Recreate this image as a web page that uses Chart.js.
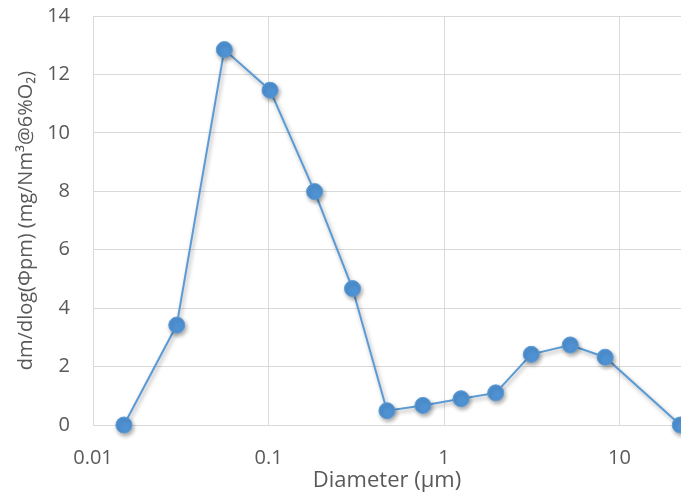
<!DOCTYPE html>
<html>
<head>
<meta charset="utf-8">
<script src="https://cdn.jsdelivr.net/npm/chart.js@4/dist/chart.umd.min.js"></script>
<style>
  html, body { margin: 0; padding: 0; background: #ffffff; overflow: hidden; }
  #wrap { position: relative; width: 681px; height: 495px; }
</style>
</head>
<body>
<div id="wrap"><canvas id="c" width="681" height="495"></canvas></div>
<script>
// Particle size distribution: diameter (µm) vs dm/dlog(Φpm)
const diameters = [0.015, 0.030, 0.056, 0.102, 0.183, 0.301, 0.473, 0.758, 1.25, 1.97, 3.14, 5.24, 8.28, 22.2];
const massDist   = [0.00, 3.42, 12.85, 11.46, 7.99, 4.67, 0.49, 0.67, 0.90, 1.10, 2.42, 2.74, 2.32, 0.00];
const xTickValues = [0.01, 0.1, 1, 10];
const xTickLabels = ['0.01', '0.1', '1', '10'];
const yTicks = [0, 2, 4, 6, 8, 10, 12, 14];

const FONT = "'Open Sans', 'Liberation Sans', sans-serif";
const TEXT = '#595959';
const GRID = '#d9d9d9';
const BLUE = '#5b9bd5';

// soft drop shadow under the markers and line
const shadowPlugin = {
  id: 'markerShadow',
  beforeDatasetsDraw(chart) {
    const ctx = chart.ctx;
    ctx.save();
    ctx.shadowColor = 'rgba(0,0,0,0.35)';
    ctx.shadowBlur = 4;
    ctx.shadowOffsetX = 1.5;
    ctx.shadowOffsetY = 2.5;
  },
  afterDatasetsDraw(chart) {
    chart.ctx.restore();
  }
};

new Chart(document.getElementById('c'), {
  type: 'line',
  data: {
    datasets: [{
      data: diameters.map((d, i) => ({ x: d, y: massDist[i] })),
      borderColor: BLUE,
      borderWidth: 2,
      backgroundColor: '#4f92d4',
      pointBackgroundColor: '#4f92d4',
      pointBorderColor: '#5b9bd5',
      pointBorderWidth: 1,
      pointRadius: 8,
      tension: 0,
      clip: false
    }]
  },
  options: {
    responsive: false,
    animation: false,
    layout: { autoPadding: false, padding: { top: 16, right: 0, left: 0, bottom: 0 } },
    plugins: { legend: { display: false }, tooltip: { enabled: false } },
    scales: {
      x: {
        type: 'logarithmic',
        min: 0.01,
        max: 22.4,
        afterBuildTicks(scale) {
          scale.ticks = xTickValues.map(v => ({ value: v }));
        },
        afterFit(scale) {
          scale.height = 70;
          scale.paddingLeft = 0;
          scale.paddingRight = 0;
        },
        ticks: {
          autoSkip: false,
          maxRotation: 0,
          padding: 21,
          color: TEXT,
          font: { family: FONT, size: 20 },
          callback(value) {
            const i = xTickValues.findIndex(v => Math.abs(v - value) / v < 1e-6);
            return i >= 0 ? xTickLabels[i] : '';
          }
        },
        grid: { color: GRID, lineWidth: 1, drawTicks: false },
        border: { color: GRID, width: 1 },
        title: {
          display: true,
          text: 'Diameter (µm)',
          color: TEXT,
          font: { family: FONT, size: 22 },
          padding: { top: 0, bottom: 1 }
        }
      },
      y: {
        type: 'linear',
        min: 0,
        max: 14,
        afterBuildTicks(scale) {
          scale.ticks = yTicks.map(v => ({ value: v }));
        },
        afterFit(scale) {
          scale.width = 93;
          scale.paddingTop = 0;
          scale.paddingBottom = 0;
        },
        ticks: {
          padding: 23,
          color: TEXT,
          font: { family: FONT, size: 20 },
          callback: v => String(v)
        },
        grid: { color: GRID, lineWidth: 1, drawTicks: false },
        border: { color: GRID, width: 1 },
        title: {
          display: true,
          text: 'dm/dlog(Φpm) (mg/Nm³@6%O₂)',
          color: TEXT,
          font: { family: FONT, size: 20 },
          padding: { top: 14, bottom: 0 }
        }
      }
    }
  },
  plugins: [shadowPlugin]
});
</script>
</body>
</html>
